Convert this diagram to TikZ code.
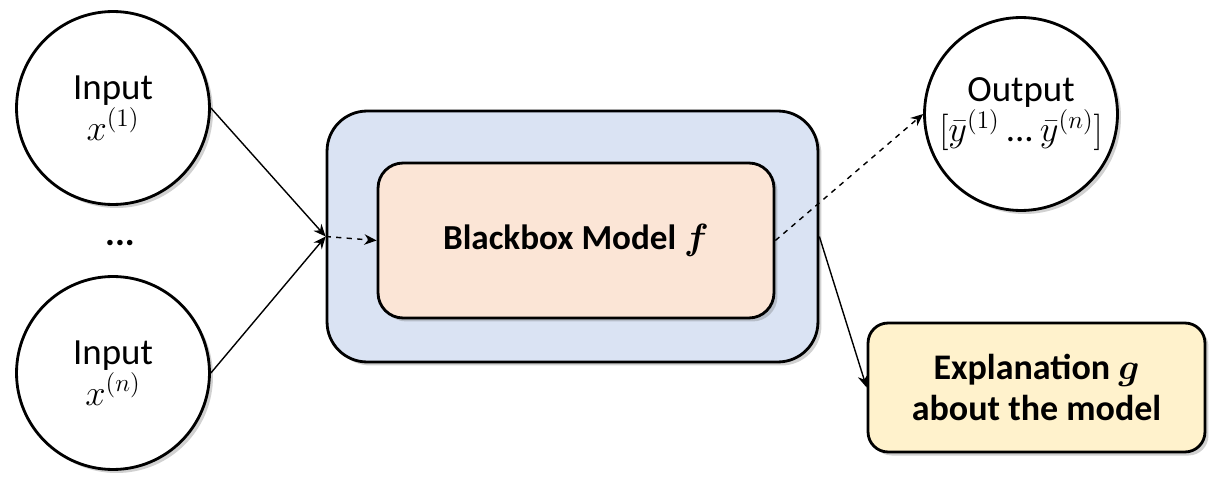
\documentclass[tikz,border=0pt]{standalone}
\usepackage{amsmath,amssymb,bm}
\usepackage{fontspec}
\setmainfont{Carlito}
\usepackage{xcolor}
\usepackage{tikz}
\usetikzlibrary{
  arrows.meta,
  positioning,
  shadows
}
\definecolor{boxblue}{RGB}{218,227,243}
\definecolor{boxpeach}{RGB}{251,229,214}
\definecolor{boxyellow}{RGB}{255,242,204}

\begin{document}
\begin{tikzpicture}[x=0.02cm,y=-0.02cm,
  shade/.style ={drop shadow={shadow xshift=2pt,shadow yshift=-2pt,
                 opacity=0.3,fill=black!60}},
  datum/.style ={circle,draw,line width=1.6pt,fill=white,shade,
                 minimum size=3.86cm,inner sep=0pt,align=center,
                 font=\fontsize{21}{24}\selectfont},
  shell/.style ={draw,rounded corners=0.8cm,fill=boxblue,line width=1.6pt,
                 minimum width=9.82cm,minimum height=5.02cm,shade},
  model/.style ={draw,rounded corners=0.5cm,fill=boxpeach,line width=1.6pt,
                 minimum width=7.92cm,minimum height=3.1cm,shade,
                 font=\fontsize{20}{23}\selectfont\bfseries,align=center},
  expl/.style  ={draw,rounded corners=0.4cm,fill=boxyellow,line width=1.6pt,
                 minimum width=6.74cm,minimum height=2.58cm,shade,
                 font=\fontsize{20.5}{23}\selectfont\bfseries,align=center},
  flow/.style  ={-{Stealth[length=7pt,width=6pt]},line width=0.8pt,black},
  flowd/.style ={flow,dashed},
]
\useasboundingbox (0,0) rectangle (1218,486);

\node[datum] (in1) at (113,108) {Input\\[-1pt]$x^{(1)}$};
\node[font=\fontsize{21}{24}\selectfont\bfseries] (dots) at (120,243) {...};
\node[datum] (inn) at (113,373) {Input\\[-1pt]$x^{(n)}$};

\node[shell] (box)   at (572.5,236.5) {};
\node[model] (bbox)  at (576,240.5) {Blackbox Model $\bm{f}$};
\coordinate (merge) at (box.west);

\node[datum] (out)  at (1021,114)
  {Output\\[-1pt]$[\bar{y}^{(1)}$\,...\,$\bar{y}^{(n)}]$};
\node[expl]  (why)  at (1036.5,387.5)
  {Explanation $\bm{g}$\\about the model};

% inputs into the model
\draw[flow]  (in1.east) -- (merge);
\draw[flow]  (inn.east) -- (merge);
\draw[flowd] (merge)    -- (bbox.west);

% model outputs
\draw[flowd] (bbox.east) -- (out.west);
\draw[flow]  (box.east)  -- (why.west);
\end{tikzpicture}
\end{document}
